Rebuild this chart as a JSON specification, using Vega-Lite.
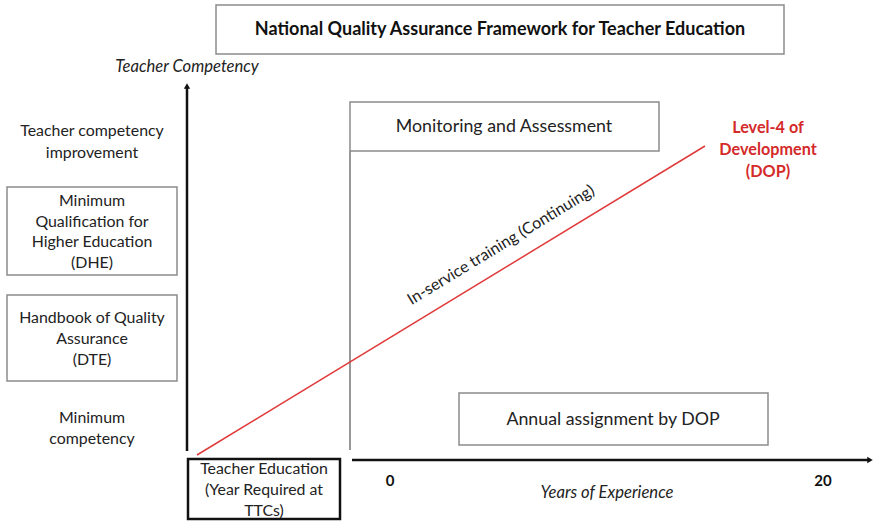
{
  "$schema": "https://vega.github.io/schema/vega-lite/v6.json",
  "width": 876,
  "height": 521,
  "padding": 0,
  "autosize": {"type": "fit", "contains": "padding"},
  "config": {"view": {"stroke": null}, "font": "Lato"},
  "datasets": {
    "boxes": [
      {"name": "title", "x": 216, "x2": 784, "y": 5, "y2": 54, "kind": "gray"},
      {"name": "monitoring", "x": 350, "x2": 659, "y": 102, "y2": 151, "kind": "gray"},
      {"name": "dhe", "x": 7, "x2": 177, "y": 187, "y2": 275, "kind": "gray"},
      {"name": "dte", "x": 7, "x2": 177, "y": 295, "y2": 381, "kind": "gray"},
      {"name": "annual", "x": 459, "x2": 768, "y": 393, "y2": 445, "kind": "gray"},
      {"name": "teachered", "x": 188, "x2": 340, "y": 459, "y2": 519, "kind": "black"}
    ],
    "lines": [
      {"name": "competency axis", "x": 187, "y": 86, "x2": 187, "y2": 451, "kind": "black"},
      {"name": "experience axis", "x": 352, "y": 460, "x2": 868, "y2": 460, "kind": "black"},
      {"name": "service start", "x": 350, "y": 151, "x2": 350, "y2": 450, "kind": "gray"},
      {"name": "growth", "x": 197, "y": 455, "x2": 705, "y2": 146, "kind": "red"}
    ],
    "arrows": [
      {"name": "up", "x": 187, "y": 86, "shape": "triangle-up"},
      {"name": "right", "x": 870, "y": 460, "shape": "triangle-right"}
    ],
    "labels": [
      {"t": "National Quality Assurance Framework for Teacher Education", "x": 500, "y": 30, "g": "title"},
      {"t": "Teacher Competency", "x": 187, "y": 67, "g": "italic"},
      {"t": "Teacher competency", "x": 92, "y": 131, "g": "plain"},
      {"t": "improvement", "x": 92, "y": 153, "g": "plain"},
      {"t": "Minimum", "x": 92, "y": 201, "g": "plain"},
      {"t": "Qualification for", "x": 92, "y": 222, "g": "plain"},
      {"t": "Higher Education", "x": 92, "y": 242, "g": "plain"},
      {"t": "(DHE)", "x": 92, "y": 263, "g": "plain"},
      {"t": "Handbook of Quality", "x": 92, "y": 318, "g": "plain"},
      {"t": "Assurance", "x": 92, "y": 339, "g": "plain"},
      {"t": "(DTE)", "x": 92, "y": 360, "g": "plain"},
      {"t": "Minimum", "x": 92, "y": 418, "g": "plain"},
      {"t": "competency", "x": 92, "y": 439, "g": "plain"},
      {"t": "Teacher Education", "x": 264, "y": 469, "g": "plain"},
      {"t": "(Year Required at", "x": 264, "y": 490, "g": "plain"},
      {"t": "TTCs)", "x": 264, "y": 511, "g": "plain"},
      {"t": "Monitoring and Assessment", "x": 504, "y": 127, "g": "large"},
      {"t": "Annual assignment by DOP", "x": 613, "y": 420, "g": "large"},
      {"t": "0", "x": 390, "y": 481, "g": "bold"},
      {"t": "20", "x": 823, "y": 481, "g": "bold"},
      {"t": "Years of Experience", "x": 607, "y": 493, "g": "italic"},
      {"t": "Level-4 of", "x": 768, "y": 128, "g": "red"},
      {"t": "Development", "x": 768, "y": 150, "g": "red"},
      {"t": "(DOP)", "x": 768, "y": 172, "g": "red"},
      {"t": "In-service training (Continuing)", "x": 501, "y": 245, "g": "rotated"}
    ]
  },
  "encoding": {
    "x": {"field": "x", "type": "quantitative", "scale": {"domain": [0, 876]}, "axis": null},
    "y": {"field": "y", "type": "quantitative", "scale": {"domain": [0, 521], "reverse": true}, "axis": null}
  },
  "layer": [
    {
      "data": {"name": "boxes"},
      "transform": [{"filter": "datum.kind === 'gray'"}],
      "mark": {"type": "rect", "fill": "white", "stroke": "#8c8c8c", "strokeWidth": 1.5},
      "encoding": {"x2": {"field": "x2"}, "y2": {"field": "y2"}}
    },
    {
      "data": {"name": "boxes"},
      "transform": [{"filter": "datum.kind === 'black'"}],
      "mark": {"type": "rect", "fill": "white", "stroke": "#111111", "strokeWidth": 2.5},
      "encoding": {"x2": {"field": "x2"}, "y2": {"field": "y2"}}
    },
    {
      "data": {"name": "lines"},
      "transform": [{"filter": "datum.kind === 'black'"}],
      "mark": {"type": "rule", "stroke": "#111111", "strokeWidth": 2.5},
      "encoding": {"x2": {"field": "x2"}, "y2": {"field": "y2"}}
    },
    {
      "data": {"name": "lines"},
      "transform": [{"filter": "datum.kind === 'gray'"}],
      "mark": {"type": "rule", "stroke": "#8c8c8c", "strokeWidth": 1.8},
      "encoding": {"x2": {"field": "x2"}, "y2": {"field": "y2"}}
    },
    {
      "data": {"name": "lines"},
      "transform": [{"filter": "datum.kind === 'red'"}],
      "mark": {"type": "rule", "stroke": "#e03a3a", "strokeWidth": 1.5},
      "encoding": {"x2": {"field": "x2"}, "y2": {"field": "y2"}}
    },
    {
      "data": {"name": "arrows"},
      "mark": {"type": "point", "filled": true, "color": "#111111", "size": 40, "opacity": 1},
      "encoding": {"shape": {"field": "shape", "type": "nominal", "scale": null}}
    },
    {
      "data": {"name": "labels"},
      "transform": [{"filter": "datum.g === 'title'"}],
      "mark": {"type": "text", "fontWeight": "bold", "fontSize": 18, "color": "#111111", "baseline": "middle", "align": "center"},
      "encoding": {"text": {"field": "t"}}
    },
    {
      "data": {"name": "labels"},
      "transform": [{"filter": "datum.g === 'plain'"}],
      "mark": {"type": "text", "fontSize": 15.9, "color": "#222222", "baseline": "middle", "align": "center"},
      "encoding": {"text": {"field": "t"}}
    },
    {
      "data": {"name": "labels"},
      "transform": [{"filter": "datum.g === 'large'"}],
      "mark": {"type": "text", "fontSize": 17.8, "color": "#222222", "baseline": "middle", "align": "center"},
      "encoding": {"text": {"field": "t"}}
    },
    {
      "data": {"name": "labels"},
      "transform": [{"filter": "datum.g === 'italic'"}],
      "mark": {"type": "text", "fontStyle": "italic", "fontSize": 16.6, "color": "#222222", "baseline": "middle", "align": "center"},
      "encoding": {"text": {"field": "t"}}
    },
    {
      "data": {"name": "labels"},
      "transform": [{"filter": "datum.g === 'bold'"}],
      "mark": {"type": "text", "fontWeight": "bold", "fontSize": 15, "color": "#111111", "baseline": "middle", "align": "center"},
      "encoding": {"text": {"field": "t"}}
    },
    {
      "data": {"name": "labels"},
      "transform": [{"filter": "datum.g === 'red'"}],
      "mark": {"type": "text", "fontWeight": "bold", "fontSize": 16.2, "color": "#d42a2a", "baseline": "middle", "align": "center"},
      "encoding": {"text": {"field": "t"}}
    },
    {
      "data": {"name": "labels"},
      "transform": [{"filter": "datum.g === 'rotated'"}],
      "mark": {"type": "text", "fontSize": 16, "color": "#222222", "baseline": "middle", "align": "center", "angle": -31.3},
      "encoding": {"text": {"field": "t"}}
    }
  ]
}
